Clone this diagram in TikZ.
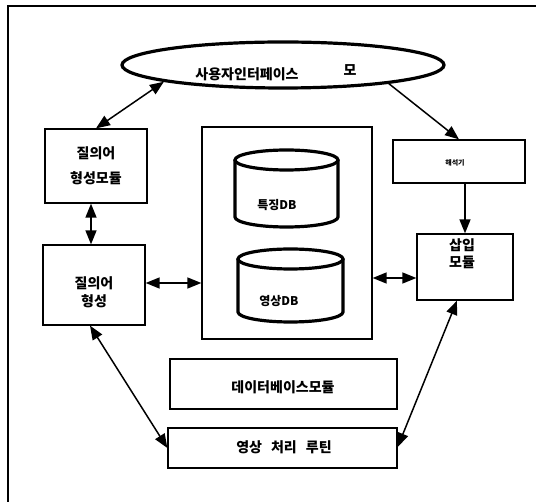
\documentclass[tikz,border=0pt]{standalone}
\usepackage{fontspec}
\setmainfont{Noto Sans CJK KR}
\usetikzlibrary{arrows.meta,shapes.geometric,calc}
\tikzset{
  box/.style={draw, line width=1.3pt, minimum width=#1, inner sep=0pt},
  lbl/.style={inner sep=0pt, font=\fontsize{14}{18}\selectfont\bfseries, align=center},
  con/.style={line width=1.5pt, -{Triangle[length=14pt,width=11pt]}},
  dcon/.style={line width=1.5pt, {Triangle[length=14pt,width=11pt]}-{Triangle[length=14pt,width=11pt]}},
  thick3/.style={line width=3.2pt},
}
\begin{document}
\begin{tikzpicture}[x=1pt,y=-1pt]
\useasboundingbox (0,0) rectangle (536,502);
% outer frame
\coordinate (fa) at (8,502);
\coordinate (fb) at (8,6);
\coordinate (fc) at (536,6);
\draw[line width=1.5pt] (fa) -- (fb) -- (fc);

% user interface ellipse
\node[ellipse, draw, thick3, minimum width=322pt, minimum height=46pt, inner sep=0pt] (ui) at (283,65) {};
\node[lbl] (uit) at (247,74) {사용자인터페이스};
\node[lbl] (uim) at (350,70) {모};

% left boxes
\node[box=102pt, minimum height=74pt] (qm) at (96,166) {};
\node[lbl, font=\fontsize{14}{25}\selectfont\bfseries] (qmt) at (96,166) {질의어\\형성모듈};
\node[box=102pt, minimum height=80pt] (qf) at (94,285) {};
\node[lbl] (qft) at (94,292) {질의어\\형성};

% database frame and cylinders
\node[box=170pt, minimum height=212pt] (db) at (287,233) {};
% cylinder 1
\coordinate (c1) at (286.5,160);
\draw[thick3, fill=white] (c1) ellipse [x radius=51.5pt, y radius=10pt];
\draw[thick3] ($(c1)+(-51.5,0)$) -- (235,217) arc[start angle=180, end angle=360, x radius=51.5pt, y radius=10pt] -- ($(c1)+(51.5,0)$);
\node[lbl, font=\fontsize{12}{14}\selectfont\bfseries] (c1t) at (277,205) {특징DB};
% cylinder 2
\coordinate (c2) at (290.5,259);
\draw[thick3, fill=white] (c2) ellipse [x radius=52.5pt, y radius=10pt];
\draw[thick3] ($(c2)+(-52.5,0)$) -- (238,312) arc[start angle=180, end angle=360, x radius=52.5pt, y radius=10pt] -- ($(c2)+(52.5,0)$);
\node[lbl, font=\fontsize{12}{14}\selectfont\bfseries] (c2t) at (279,301) {영상DB};

% right boxes
\node[box=132pt, minimum height=43pt] (tr) at (459,161.5) {};
\node[lbl, font=\fontsize{7}{8}\selectfont\bfseries] (trt) at (455,163) {해석기};
\node[box=96pt, minimum height=66pt] (ins) at (465,267) {};
\node[lbl, font=\fontsize{14}{17}\selectfont\bfseries] (inst) at (462,254) {삽입\\모듈};

% bottom boxes
\node[box=227pt, minimum height=50pt] (dbm) at (283.5,384) {};
\node[lbl] (dbmt) at (283,387) {데이터베이스모듈};
\node[box=229pt, minimum height=40pt] (ip) at (282.5,448) {};
\node[lbl] (ipt) at (284,447) {영상\hspace{9pt}처리\hspace{9pt}루틴};

% connectors
\draw[dcon] (ui.188) -- (qm.north);
\coordinate (q1) at ([xshift=-5pt]qm.south);
\draw[dcon] (q1) -- (q1 |- qf.north);
\coordinate (q2) at ([yshift=2pt]qf.east);
\draw[dcon] (q2) -- (db.west |- q2);
\coordinate (p4) at ([yshift=-11pt]ins.west);
\draw[dcon] (db.east |- p4) -- (p4);
\draw[con] (ui.350) -- (tr.north);
\draw[con] (ins.north |- tr.south) -- (ins.north);
\draw[dcon] ([xshift=-8pt]ins.south) -- ([yshift=1pt]ip.east);
\draw[dcon] ([xshift=-4pt]qf.south) -- (ip.west);
\end{tikzpicture}
\end{document}
